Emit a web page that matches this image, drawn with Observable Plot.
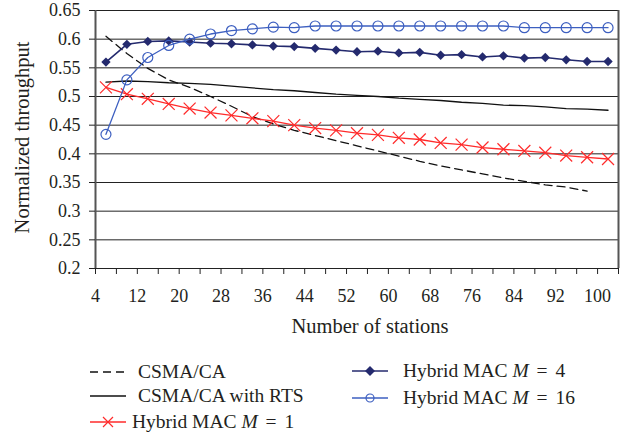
<!DOCTYPE html>
<html>
<head>
<meta charset="utf-8">
<script src="https://cdn.jsdelivr.net/npm/d3@7"></script>
<script src="https://cdn.jsdelivr.net/npm/@observablehq/plot@0.6"></script>
<style>
  html, body { margin: 0; padding: 0; background: #fff; }
  #wrap { position: relative; width: 631px; height: 433px; font-family: "Liberation Serif", "DejaVu Serif", serif; color: #231f20; }
  .leg { position: absolute; display: flex; align-items: center; font-size: 19.5px; white-space: nowrap; line-height: 20px; }
  .leg svg { display: block; }
  .eq { margin: 0 3px; }
</style>
</head>
<body>
<div id="wrap"></div>
<script>
// ---- data ----
const stations = [4, 8, 12, 16, 20, 24, 28, 32, 36, 40, 44, 48, 52, 56, 60, 64, 68, 72, 76, 80, 84, 88, 92, 96, 100];
const csma = [0.605, 0.575, 0.549, 0.529, 0.516, 0.500, 0.483, 0.465, 0.452, 0.441, 0.432, 0.423, 0.414, 0.405, 0.396, 0.387, 0.379, 0.372, 0.365, 0.358, 0.352, 0.346, 0.342, 0.335];
const csmaRts = [0.525, 0.527, 0.526, 0.524, 0.523, 0.521, 0.518, 0.515, 0.512, 0.510, 0.507, 0.504, 0.502, 0.500, 0.497, 0.495, 0.493, 0.490, 0.488, 0.485, 0.484, 0.482, 0.479, 0.478, 0.476];
const hybridM1 = [0.516, 0.504, 0.496, 0.487, 0.479, 0.472, 0.467, 0.462, 0.457, 0.450, 0.445, 0.441, 0.436, 0.433, 0.428, 0.425, 0.419, 0.416, 0.411, 0.408, 0.405, 0.402, 0.397, 0.394, 0.391];
const hybridM4 = [0.560, 0.591, 0.596, 0.597, 0.595, 0.593, 0.592, 0.590, 0.588, 0.587, 0.584, 0.581, 0.578, 0.579, 0.576, 0.577, 0.572, 0.573, 0.569, 0.571, 0.567, 0.568, 0.564, 0.561, 0.561];
const hybridM16 = [0.434, 0.529, 0.568, 0.589, 0.600, 0.609, 0.615, 0.618, 0.621, 0.620, 0.623, 0.623, 0.623, 0.623, 0.623, 0.623, 0.623, 0.623, 0.623, 0.623, 0.620, 0.620, 0.620, 0.620, 0.620];
const yTicks = [0.2, 0.25, 0.3, 0.35, 0.4, 0.45, 0.5, 0.55, 0.6, 0.65];
const xTickLabels = [4, 12, 20, 28, 36, 44, 52, 60, 68, 76, 84, 92, 100];

const C_DASH = "#111", C_RTS = "#111", C_M1 = "#ff2b2b", C_M4 = "#242a6e", C_M16 = "#3d5fc0";

const toRows = (vals) => vals.map((v, i) => ({x: stations[i], y: v}));
const step = stations[1] - stations[0];
const half = step / 2;
const bounds = stations.map(s => s - half).concat([stations[stations.length - 1] + half]);

const chart = Plot.plot({
  width: 631,
  height: 345,
  marginLeft: 95,
  marginRight: 13,
  marginTop: 10,
  marginBottom: 77,
  x: {domain: [bounds[0], bounds[bounds.length - 1]]},
  y: {domain: [yTicks[0], yTicks[yTicks.length - 1]]},
  style: {fontFamily: "Liberation Serif, DejaVu Serif, serif", fontSize: "18px", color: "#231f20", background: "#fff", overflow: "visible"},
  marks: [
    Plot.ruleY(yTicks, {stroke: "#222", strokeWidth: 1}),
    Plot.ruleX([bounds[0], bounds[bounds.length - 1]], {stroke: "#555", strokeWidth: 2}),
    Plot.axisX({ticks: bounds, tickSize: 6, tickFormat: () => "", label: null, stroke: "#222"}),
    Plot.axisX({ticks: xTickLabels.map(v => v - half), tickSize: 0, tickPadding: 21, tickFormat: d => String(d + half), label: null}),
    Plot.axisY({ticks: yTicks, tickSize: 6, tickPadding: 9, tickFormat: d => String(+d.toFixed(2)), label: null, stroke: "#222"}),
    Plot.text(["Number of stations"], {frameAnchor: "bottom", dx: 13, dy: 58, lineAnchor: "middle", textAnchor: "middle", fontSize: 20.5}),
    Plot.text(["Normalized throughput"], {frameAnchor: "left", dx: -73, dy: -2, rotate: -90, lineAnchor: "middle", textAnchor: "middle", fontSize: 20.5}),
    // CSMA/CA
    Plot.line(toRows(csma), {x: "x", y: "y", stroke: C_DASH, strokeWidth: 1.3, strokeDasharray: "8,5"}),
    // CSMA/CA with RTS
    Plot.line(toRows(csmaRts), {x: "x", y: "y", stroke: C_RTS, strokeWidth: 1.3}),
    // Hybrid M = 1
    Plot.line(toRows(hybridM1), {x: "x", y: "y", stroke: C_M1, strokeWidth: 1.3}),
    Plot.dot(toRows(hybridM1), {x: "x", y: "y", symbol: "times", r: 5.5, stroke: C_M1, strokeWidth: 1.2}),
    // Hybrid M = 4
    Plot.line(toRows(hybridM4), {x: "x", y: "y", stroke: C_M4, strokeWidth: 1.6}),
    Plot.dot(toRows(hybridM4), {x: "x", y: "y", symbol: "diamond2", r: 4.2, fill: C_M4, stroke: "none"}),
    // Hybrid M = 16
    Plot.line(toRows(hybridM16), {x: "x", y: "y", stroke: C_M16, strokeWidth: 1.3}),
    Plot.dot(toRows(hybridM16), {x: "x", y: "y", symbol: "circle", r: 5, stroke: C_M16, fill: "none", strokeWidth: 1.2})
  ]
});

const wrap = document.getElementById("wrap");
wrap.appendChild(chart);

// ---- legend (below the chart) ----
function swatch(kind) {
  const w = 36, h = 20, cy = 10;
  let s = `<svg width="${w}" height="${h}" viewBox="0 0 ${w} ${h}">`;
  if (kind === "dash") s += `<line x1="0" y1="${cy}" x2="${w}" y2="${cy}" stroke="${C_DASH}" stroke-width="1.3" stroke-dasharray="8,5"/>`;
  if (kind === "rts") s += `<line x1="0" y1="${cy}" x2="${w}" y2="${cy}" stroke="${C_RTS}" stroke-width="1.3"/>`;
  if (kind === "m1") s += `<line x1="0" y1="${cy}" x2="${w}" y2="${cy}" stroke="${C_M1}" stroke-width="1.3"/><path d="M${w/2-5},${cy-5}L${w/2+5},${cy+5}M${w/2-5},${cy+5}L${w/2+5},${cy-5}" stroke="${C_M1}" stroke-width="1.2"/>`;
  if (kind === "m4") s += `<line x1="0" y1="${cy}" x2="${w}" y2="${cy}" stroke="${C_M4}" stroke-width="1.6"/><path d="M${w/2},${cy-5}L${w/2+5},${cy}L${w/2},${cy+5}L${w/2-5},${cy}Z" fill="${C_M4}"/>`;
  if (kind === "m16") s += `<line x1="0" y1="${cy}" x2="${w}" y2="${cy}" stroke="${C_M16}" stroke-width="1.3"/><circle cx="${w/2}" cy="${cy}" r="4" fill="none" stroke="${C_M16}" stroke-width="1.2"/>`;
  return s + `</svg>`;
}
const legendItems = [
  {kind: "dash", html: "CSMA/CA", left: 90, cy: 371.5, gap: 12},
  {kind: "rts", html: "CSMA/CA with RTS", left: 90, cy: 395.5, gap: 12},
  {kind: "m1", html: "Hybrid MAC <i>M</i><span class=\"eq\"> = </span>1", left: 90, cy: 421.5, gap: 6},
  {kind: "m4", html: "Hybrid MAC <i>M</i><span class=\"eq\"> = </span>4", left: 352, cy: 371, gap: 15},
  {kind: "m16", html: "Hybrid MAC <i>M</i><span class=\"eq\"> = </span>16", left: 352, cy: 397.5, gap: 15}
];
for (const it of legendItems) {
  const d = document.createElement("div");
  d.className = "leg";
  d.style.left = it.left + "px";
  d.style.top = (it.cy - 10) + "px";
  d.innerHTML = swatch(it.kind) + `<span style="margin-left:${it.gap}px">${it.html}</span>`;
  wrap.appendChild(d);
}
</script>
</body>
</html>
